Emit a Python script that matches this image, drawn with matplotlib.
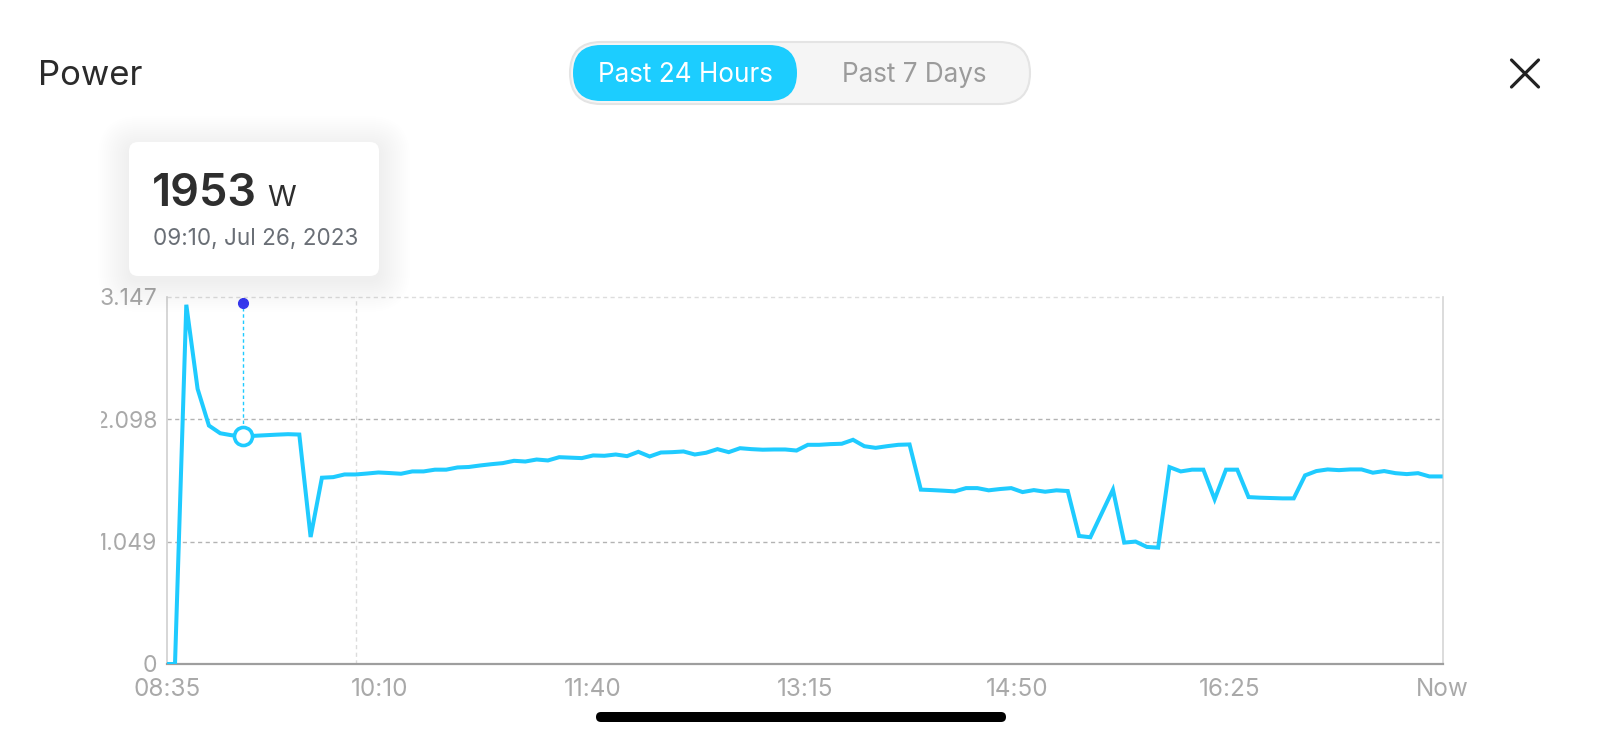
"""Power panel: past-24-hours line chart with a hover tooltip."""
import matplotlib
matplotlib.use("Agg")
import matplotlib.pyplot as plt
import numpy as np
from matplotlib.patches import FancyBboxPatch, Rectangle

plt.rcParams["font.family"] = ["Inter", "DejaVu Sans"]

TITLE = "Power"
RANGE_OPTIONS = ["Past 24 Hours", "Past 7 Days"]
X_TICK_LABELS = ["08:35", "10:10", "11:40", "13:15", "14:50", "16:25", "Now"]
Y_TICKS_W = [0, 1049, 2098, 3147]
Y_TICK_LABELS = ["0", "1.049", "2.098", "3.147"]

START = "08:35"
STEP_MIN = 5
POWER_W = [
    0, 0, 3078, 2357, 2043, 1977, 1960, 1953, 1955, 1960,
    1965, 1969, 1966, 1088, 1596, 1601, 1624, 1624, 1632, 1641,
    1636, 1630, 1650, 1650, 1665, 1665, 1684, 1688, 1701, 1712,
    1721, 1741, 1735, 1752, 1744, 1772, 1768, 1764, 1787, 1784,
    1795, 1781, 1818, 1778, 1812, 1815, 1821, 1795, 1810, 1841,
    1815, 1849, 1841, 1836, 1838, 1838, 1829, 1878, 1878, 1884,
    1887, 1921, 1866, 1852, 1866, 1878, 1881, 1494, 1490, 1485,
    1479, 1507, 1507, 1488, 1499, 1507, 1473, 1490, 1476, 1488,
    1482, 1097, 1086, 1290, 1494, 1040, 1049, 1003, 997, 1687,
    1650, 1665, 1665, 1411, 1665, 1665, 1430, 1425, 1422, 1419,
    1419, 1616, 1653, 1667, 1661, 1667, 1667, 1639, 1653, 1635,
    1627, 1635, 1607, 1607,
]

TOOLTIP_TIME = "09:10"
TOOLTIP_VALUE = 1953
TOOLTIP_UNIT = "W"
TOOLTIP_DATE = "09:10, Jul 26, 2023"
VGRID_TIME = "10:00"

CYAN = "#1fcbff"
LABEL_GREY = "#a9a9a9"


def to_min(hhmm):
    h, m = hhmm.split(":")
    return int(h) * 60 + int(m)


times = to_min(START) + STEP_MIN * np.arange(len(POWER_W))
power = np.array(POWER_W, dtype=float)

W, H = 1600, 738
fig = plt.figure(figsize=(W / 100, H / 100), dpi=100)
fig.patch.set_facecolor("white")

# chart area in pixels
L, R, T, B = 167, 1442.7, 296.7, 664
ax = fig.add_axes([L / W, 1 - B / H, (R - L) / W, (B - T) / H])
x0 = to_min(START) + 1.46
x1 = to_min(START) + 565.9
ax.set_xlim(x0, x1)
ax.set_ylim(0, Y_TICKS_W[-1])

for v in Y_TICKS_W[1:]:
    c = "#dddddd" if v == Y_TICKS_W[-1] else "#b3b3b3"
    ax.axhline(v, color=c, lw=1.0, ls=(0, (3, 2.5)), zorder=1, clip_on=False)
ax.axvline(to_min(VGRID_TIME), color="#dcdcdc", lw=1.0, ls=(0, (3, 2.5)), zorder=1)

ax.plot(times, power, color=CYAN, lw=2.9, solid_joinstyle="miter", zorder=3)

# hover marker
tx = to_min(TOOLTIP_TIME)
top_dot = 3090
ax.plot([tx, tx], [TOOLTIP_VALUE, top_dot], color=CYAN, lw=1.0,
        ls=(0, (2.5, 2)), zorder=2)
ax.plot(tx, top_dot, "o", color="#3a3cf0", ms=7, zorder=4, clip_on=False)
ax.plot(tx, TOOLTIP_VALUE, "o", mfc="white", mec=CYAN, mew=2.6, ms=13, zorder=5)

ax.set_xticks(np.linspace(x0, x1, len(X_TICK_LABELS)))
ax.set_xticklabels(X_TICK_LABELS)
ax.set_yticks(Y_TICKS_W)
ax.set_yticklabels(Y_TICK_LABELS)
ax.tick_params(length=0, labelcolor=LABEL_GREY)
ax.tick_params(axis="x", pad=10, labelsize=17.5)
ax.tick_params(axis="y", pad=7, labelsize=16.5)

ax.spines["top"].set_visible(False)
ax.spines["left"].set_color("#d0d0d0")
ax.spines["left"].set_linewidth(1.2)
ax.spines["right"].set_color("#d6d6d6")
ax.spines["right"].set_linewidth(1.2)
ax.spines["bottom"].set_color("#9e9e9e")
ax.spines["bottom"].set_linewidth(1.6)
ax.set_facecolor("white")

# overlay in pixel coordinates
ov = fig.add_axes([0, 0, 1, 1], zorder=10)
ov.set_xlim(0, W)
ov.set_ylim(H, 0)
ov.axis("off")
ov.patch.set_alpha(0)

# clip the y labels at the container edge
ov.add_patch(Rectangle((0, 285), 100, 400, color="white", zorder=1))

# title
ov.text(38, 76, TITLE, fontsize=25, color="#2b2b2b", va="center", ha="left")

# range toggle
ov.add_patch(FancyBboxPatch((570, 42), 460, 62,
                            boxstyle="round,pad=0,rounding_size=31",
                            fc="#f5f5f5", ec="#e4e4e4", lw=1.5, zorder=2))
ov.add_patch(FancyBboxPatch((573, 45), 224, 56,
                            boxstyle="round,pad=0,rounding_size=28",
                            fc="#1ccdff", ec="none", zorder=3))
ov.text(685, 75, RANGE_OPTIONS[0], fontsize=18.8, color="white",
        ha="center", va="center", zorder=4)
ov.text(914, 75, RANGE_OPTIONS[1], fontsize=18.8, color="#9b9b9b",
        ha="center", va="center", zorder=4)

# close icon
cx, cy, hs = 1525, 73.5, 13.5
ov.plot([cx - hs, cx + hs], [cy - hs, cy + hs], color="#222222", lw=2.3,
        solid_capstyle="round", zorder=4)
ov.plot([cx - hs, cx + hs], [cy + hs, cy - hs], color="#222222", lw=2.3,
        solid_capstyle="round", zorder=4)

# tooltip card with a soft shadow
bx, by, bw, bh = 129, 142, 250, 134
for i in range(16):
    pad = 1 + i * 2.0
    ov.add_patch(FancyBboxPatch((bx - pad, by - pad + 5), bw + 2 * pad, bh + 2 * pad,
                                boxstyle=f"round,pad=0,rounding_size={10 + pad}",
                                fc="black", ec="none", alpha=0.0045, zorder=2))
ov.add_patch(FancyBboxPatch((bx, by), bw, bh,
                            boxstyle="round,pad=0,rounding_size=9",
                            fc="white", ec="none", zorder=3))
ov.text(152, 206, f"{TOOLTIP_VALUE}", fontsize=32.5, fontweight="semibold",
        color="#2e2e2e", ha="left", va="baseline", zorder=4)
ov.text(267, 206, TOOLTIP_UNIT, fontsize=21, color="#2e2e2e",
        ha="left", va="baseline", zorder=4)
ov.text(153, 245, TOOLTIP_DATE, fontsize=16.2, color="#6a6f76",
        ha="left", va="baseline", zorder=4)

# home indicator
ov.add_patch(FancyBboxPatch((596, 712), 410, 10,
                            boxstyle="round,pad=0,rounding_size=5",
                            fc="black", ec="none", zorder=4))

fig.savefig("out.png", dpi=100, facecolor="white")
